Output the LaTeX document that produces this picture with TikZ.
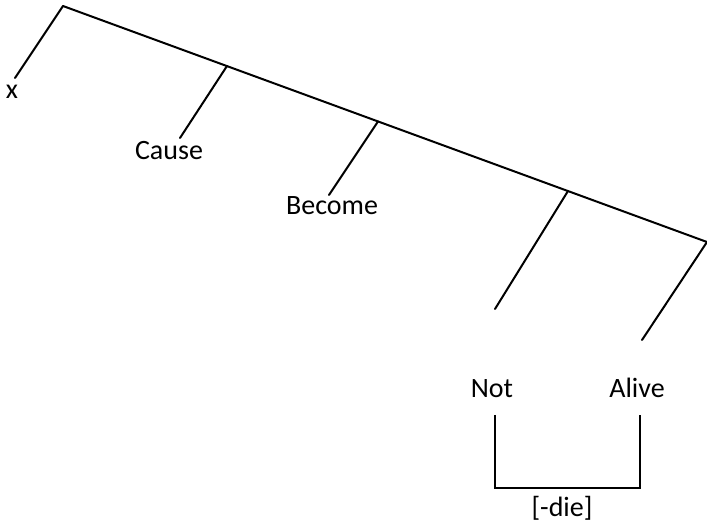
\documentclass[tikz,border=0pt]{standalone}
\usepackage{fontspec}
\setmainfont{Carlito}
\usepackage{tikz}
\usetikzlibrary{positioning}

\tikzset{
    branch/.style={line width=2pt, line cap=round},
    lbl/.style={font=\fontsize{28}{32}\selectfont, inner sep=0pt, anchor=base}
}

\begin{document}
\begin{tikzpicture}[x=1pt, y=-1pt]
    \useasboundingbox (0,0) rectangle (707,526);

    % Spine of the tree
    \coordinate (top) at (63,6);
    \coordinate (spineEnd) at (707,242);
    \draw[branch] (top) -- (spineEnd);

    % Branch points on the spine
    \coordinate (bCause) at (227,66);
    \coordinate (bBecome) at (378,121.5);
    \coordinate (bNot) at (568,191);

    % Free ends of the branches
    \coordinate (eX) at (15,78);
    \coordinate (eCause) at (180,138);
    \coordinate (eBecome) at (329,195);
    \coordinate (eNot) at (495,309);
    \coordinate (eAlive) at (642,340);

    % Branches
    \draw[branch] (top) -- (eX);
    \draw[branch] (bCause) -- (eCause);
    \draw[branch] (bBecome) -- (eBecome);
    \draw[branch] (bNot) -- (eNot);
    \draw[branch] (spineEnd) -- (eAlive);

    % Labels
    \node[lbl] (x) at (12,99) {x};
    \node[lbl] (cause) at (169,160) {Cause};
    \node[lbl] (become) at (332,215) {Become};
    \node[lbl] (not) at (492,398) {Not};
    \node[lbl] (alive) at (637,398) {Alive};

    % Bracket under Not and Alive
    \coordinate (brL) at (495,415);
    \coordinate (brR) at (640,415);
    \draw[branch, line cap=butt] (brL) -- ++(0,73) -| (brR);
    \node[lbl] (die) at (562,516) {[-die]};
\end{tikzpicture}
\end{document}
